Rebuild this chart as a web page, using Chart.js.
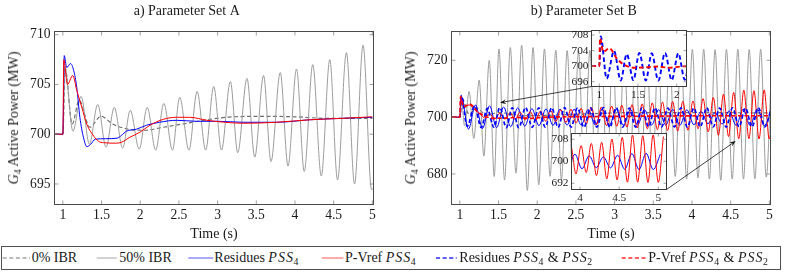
<!DOCTYPE html>
<html>
<head>
<meta charset="utf-8">
<script src="https://cdn.jsdelivr.net/npm/chart.js@4.4.1/dist/chart.umd.min.js"></script>
<style>
html,body{margin:0;padding:0;background:#fff;}
#wrap{position:relative;width:793px;height:272px;overflow:hidden;font-family:'Liberation Serif','Times New Roman',serif;color:#1a1a1a;background:#fff;}
#wrap canvas{position:absolute;}
.yt{position:absolute;white-space:nowrap;font-size:14px;line-height:16px;transform:translate(-50%,-50%) rotate(-90deg);}
sub{font-size:70%;vertical-align:baseline;position:relative;top:0.28em;line-height:0;}
#legend{position:absolute;left:1px;top:246px;width:780px;height:24px;border:1px solid #505050;box-sizing:border-box;}
#legend svg{position:absolute;left:0;top:0;}
.lt{position:absolute;top:11px;transform:translateY(-50%);font-size:14px;line-height:16px;white-space:nowrap;}
.lt i{letter-spacing:1px;}
.lt sub{margin-left:-0.5px;margin-right:1px;}
</style>
</head>
<body>
<div id="wrap">
 <canvas id="cA" width="400" height="245" style="left:0;top:0"></canvas>
 <canvas id="cB" width="396" height="245" style="left:397px;top:0"></canvas>
 <canvas id="cI1" width="136" height="90" style="left:557px;top:16px"></canvas>
 <canvas id="cI2" width="136" height="90" style="left:537px;top:119px"></canvas>
 <div class="yt" style="left:13.5px;top:118px"><i>G</i><sub>4</sub> Active Power (MW)</div>
 <div class="yt" style="left:410.5px;top:118px"><i>G</i><sub>4</sub> Active Power (MW)</div>
 <div id="legend">
  <svg width="778" height="22">
   <line x1="0.7" y1="11" x2="28" y2="11" stroke="#777" stroke-width="1.2" stroke-dasharray="4,2.6"/>
   <line x1="94.7" y1="11" x2="114.7" y2="11" stroke="#b4b4b4" stroke-width="1.2"/>
   <line x1="186.3" y1="11" x2="211.3" y2="11" stroke="#7070ff" stroke-width="1.2"/>
   <line x1="319.7" y1="11" x2="341.3" y2="11" stroke="#ff7070" stroke-width="1.2"/>
   <line x1="434" y1="11" x2="454.7" y2="11" stroke="#2a2aff" stroke-width="1.6" stroke-dasharray="4,2.6"/>
   <line x1="619.7" y1="11" x2="644.7" y2="11" stroke="#ff2a2a" stroke-width="1.6" stroke-dasharray="4,2.6"/>
  </svg>
  <span class="lt" style="left:29.7px">0% IBR</span>
  <span class="lt" style="left:117.3px">50% IBR</span>
  <span class="lt" style="left:212.3px">Residues <i>PSS</i><sub>4</sub></span>
  <span class="lt" style="left:343px">P-Vref <i>PSS</i><sub>4</sub></span>
  <span class="lt" style="left:457.3px">Residues <i>PSS</i><sub>4</sub> &amp; <i>PSS</i><sub>2</sub></span>
  <span class="lt" style="left:646.3px">P-Vref <i>PSS</i><sub>4</sub> &amp; <i>PSS</i><sub>2</sub></span>
 </div>
</div>
<script>
// ---------------- tick values ----------------
const mainXTicks = [1, 1.5, 2, 2.5, 3, 3.5, 4, 4.5, 5];
const A_yTicks = [695, 700, 705, 710];
const B_yTicks = [680, 700, 720];
const I1_xTicks = [1, 1.5, 2];
const I1_yTicks = [696, 700, 704, 708];
const I2_xTicks = [4, 4.5, 5];
const I2_yTicks = [692, 700, 708];

// ---------------- Panel A series: [time (s), power (MW)] ----------------
const A_ibr0 = [[0.9,700],[1.0,700],[1.03,706.6],[1.12,701.0],[1.21,703.4],[1.35,700.7],[1.49,701.8],[1.65,701.0],[1.85,700.5],[2.05,700.4],[2.3,700.7],[2.6,701.1],[2.9,701.5],[3.2,701.75],[3.6,701.8],[4.0,701.75],[4.4,701.6],[4.8,701.6],[5.0,701.6]];
const A_ibr50 = [[0.9,700],[1.0,700],[1.025,706.8],[1.13,700.3],[1.236,703.8],[1.343,699.0],[1.451,703.0],[1.558,698.7],[1.665,702.7],[1.773,698.6],[1.871,702.4],[1.987,698.5],[2.09,702.7],[2.2,698.4],[2.305,703.1],[2.417,698.4],[2.51,703.7],[2.63,698.4],[2.735,704.3],[2.846,698.4],[2.95,704.8],[3.05,698.4],[3.165,705.3],[3.26,698.15],[3.38,705.6],[3.48,697.7],[3.594,705.9],[3.69,697.25],[3.81,706.2],[3.91,696.8],[4.02,706.55],[4.12,696.25],[4.23,707.0],[4.34,695.8],[4.45,707.5],[4.55,695.4],[4.665,708.2],[4.77,695.0],[4.88,708.95],[4.99,694.45],[5.02,694.6]];
const A_res = [[0.9,700],[1.0,700],[1.018,707.9],[1.05,706.7],[1.1,707.1],[1.14,706.4],[1.18,704.7],[1.22,701.7],[1.266,699.7],[1.31,698.75],[1.36,699.0],[1.42,699.5],[1.55,699.55],[1.7,699.6],[1.76,699.9],[1.82,700.3],[1.95,700.5],[2.08,700.9],[2.25,701.2],[2.47,701.4],[2.73,701.3],[3.0,701.3],[3.33,701.2],[3.76,701.2],[4.19,701.45],[4.62,701.6],[5.0,701.7]];
const A_pv = [[0.9,700],[1.0,700],[1.012,707.5],[1.06,705.0],[1.128,705.9],[1.18,704.4],[1.245,702.7],[1.31,701.0],[1.40,699.8],[1.46,699.3],[1.524,699.15],[1.695,699.1],[1.76,699.2],[1.867,699.7],[1.996,700.2],[2.125,700.9],[2.3,701.5],[2.47,701.7],[2.64,701.7],[2.86,701.4],[3.1,701.2],[3.33,701.1],[3.76,701.2],[4.19,701.45],[4.62,701.6],[5.0,701.75]];

// ---------------- Panel B series ----------------
const B_ibr0 = [[0.9,700],[1.0,700],[1.03,706.5],[1.12,701.0],[1.21,703.3],[1.35,700.6],[1.49,701.6],[1.85,700.5],[2.5,701.0],[3.2,701.6],[4.0,701.6],[5.0,701.5]];
const B_ibr50 = [[0.9,700],[1.0,700],[1.02,706],[1.06,697],[1.12,709],[1.18,692.5],[1.25,713],[1.31,686.3],[1.38,720],[1.444,679.1],[1.505,724],[1.578,677.9],[1.652,724.5],[1.725,680.3],[1.799,725.3],[1.872,674.2],[1.946,724.5],[2.02,676.2],[2.093,724],[2.166,679.2],[2.24,723.6],[2.313,678],[2.387,723.4],[2.46,678.5],[2.534,723.3],[2.607,678.8],[2.681,723.5],[2.755,678.6],[2.829,723.6],[2.902,678.4],[2.976,723.8],[3.05,678.3],[3.123,724],[3.196,678.5],[3.27,724],[3.343,678.7],[3.417,723.9],[3.49,678.6],[3.564,723.8],[3.637,678.8],[3.711,723.9],[3.784,679.1],[3.858,723.8],[3.931,678.2],[4.005,723.8],[4.078,678.6],[4.152,723.9],[4.225,678.2],[4.299,723.7],[4.372,677.8],[4.446,723.8],[4.52,678.2],[4.593,723.9],[4.666,678.2],[4.74,723.8],[4.813,678.3],[4.888,723.9],[4.96,678.9],[5.035,723.5]];
const B_res = [[0.9,700],[1.0,700],[1.02,707.3],[1.111,695.8],[1.202,704.3],[1.293,696.0],[1.384,704.0],[1.475,696.3],[1.566,703.6],[1.657,696.6],[1.748,703.3],[1.839,696.8],[1.931,703.0],[2.022,697.0],[2.113,702.9],[2.204,697.1],[2.295,702.8],[2.386,697.2],[2.477,702.8],[2.568,697.2],[2.659,702.7],[2.750,697.2],[2.841,702.8],[2.932,697.1],[3.023,702.8],[3.114,697.1],[3.205,702.7],[3.296,697.2],[3.387,702.6],[3.478,697.2],[3.570,702.6],[3.661,697.2],[3.752,702.7],[3.843,697.1],[3.934,702.6],[4.025,697.3],[4.116,702.0],[4.207,697.7],[4.298,701.6],[4.389,697.6],[4.480,702.2],[4.571,697.1],[4.662,702.8],[4.753,697.0],[4.844,702.9],[4.935,697.0],[5.026,702.6]];
const B_pv = [[0.9,700],[1.0,700],[1.01,707.0],[1.05,703.6],[1.12,704.3],[1.2,702.5],[1.28,700.6],[1.32,699.7],[1.385,701.2],[1.451,699.4],[1.516,701.4],[1.582,699.3],[1.647,701.5],[1.713,699.2],[1.779,701.7],[1.845,699.0],[1.91,701.9],[1.976,698.8],[2.042,702.1],[2.108,698.6],[2.173,702.3],[2.239,698.4],[2.305,702.6],[2.371,698.1],[2.436,702.8],[2.502,697.9],[2.567,703.1],[2.633,697.6],[2.699,703.4],[2.765,697.3],[2.83,703.6],[2.896,697.0],[2.962,703.9],[3.028,696.8],[3.093,704.2],[3.159,696.5],[3.225,704.4],[3.291,696.2],[3.356,704.7],[3.422,695.9],[3.487,705.0],[3.553,695.6],[3.619,705.3],[3.685,695.3],[3.75,705.5],[3.816,695.1],[3.882,705.6],[3.948,695.4],[4.013,705.7],[4.079,695.9],[4.144,706.5],[4.21,694.8],[4.276,706.9],[4.342,693.6],[4.407,708.1],[4.473,693.2],[4.539,708.7],[4.605,692.4],[4.67,709.5],[4.736,692.4],[4.801,709.3],[4.867,692.3],[4.933,709.6],[4.999,692.3],[5.064,709]];
const B_res2 = [[0.9,700],[1.0,700],[1.018,707.6],[1.095,696.8],[1.19,703.9],[1.276,696.3],[1.354,703.1],[1.44,696.4],[1.517,703.4],[1.60,696.3],[1.677,703.3],[1.762,696.3],[1.849,703.4],[1.935,696.4],[2.02,703.3],[2.104,696.5],[2.187,703.3],[2.27,696.4],[2.354,703.4],[2.437,696.5],[2.521,703.3],[2.604,696.4],[2.688,703.3],[2.771,696.5],[2.855,703.4],[2.938,696.4],[3.022,703.3],[3.105,696.5],[3.189,703.2],[3.272,696.5],[3.356,703.3],[3.439,696.6],[3.523,703.3],[3.606,696.5],[3.69,703.2],[3.773,696.6],[3.857,703.3],[3.94,696.5],[4.024,703.2],[4.107,696.6],[4.191,703.3],[4.274,696.6],[4.358,703.2],[4.441,696.5],[4.525,703.3],[4.608,696.6],[4.692,703.2],[4.775,696.6],[4.859,703.3],[4.942,696.6],[5.026,703.2]];
const B_pv2 = [[0.9,700],[1.0,700],[1.009,707.2],[1.05,703.7],[1.13,704.6],[1.225,702.0],[1.31,700.5],[1.44,699.6],[1.6,699.7],[1.75,699.9],[1.9,699.6],[2.05,699.9],[2.3,700.1],[2.7,700.2],[3.2,700.3],[3.7,700.4],[4.2,700.5],[4.7,700.5],[5.0,700.5]];

// arrow targets (data coords in panel B)
const B_arrowTo = [[1.52, 705.1], [4.565, 691.6]];

// ---------------- layout constants ----------------
const FF = "'Liberation Serif','Times New Roman',serif";
Chart.defaults.font.family = FF;
Chart.defaults.color = '#1a1a1a';
const B_LEFT = 397;
const I1_BOX = {l: 591.5, t: 30.5, r: 686.5, b: 86.5};
const I2_BOX = {l: 571.5, t: 133.5, r: 666.5, b: 189.5};

const toXY = arr => arr.map(([x, y]) => ({x, y}));
function ds(label, arr, color, width, dash, order) {
  return {label, data: toXY(arr), borderColor: color, backgroundColor: color, borderWidth: width,
    borderDash: dash || [], pointRadius: 0, fill: false, cubicInterpolationMode: 'monotone', order};
}

const framePlugin = {
  id: 'frame',
  beforeDatasetsDraw(chart, args, o) {
    if (!o || !o.fill) return;
    const a = chart.chartArea, c = chart.ctx;
    c.save(); c.fillStyle = '#fff'; c.fillRect(a.left, a.top, a.right - a.left, a.bottom - a.top); c.restore();
  },
  afterDatasetsDraw(chart, args, o) {
    const a = chart.chartArea, c = chart.ctx, L = o.len;
    const xs = chart.scales.x, ys = chart.scales.y;
    c.save();
    c.lineWidth = 0.8; c.strokeStyle = o.tick;
    c.beginPath();
    xs.ticks.forEach(t => {
      const p = xs.getPixelForValue(t.value);
      c.moveTo(p, a.bottom); c.lineTo(p, a.bottom - L);
      c.moveTo(p, a.top); c.lineTo(p, a.top + L);
    });
    ys.ticks.forEach(t => {
      const p = ys.getPixelForValue(t.value);
      c.moveTo(a.left, p); c.lineTo(a.left + L, p);
      c.moveTo(a.right, p); c.lineTo(a.right - L, p);
    });
    c.stroke();
    c.lineWidth = 1; c.strokeStyle = o.line;
    c.strokeRect(a.left, a.top, a.right - a.left, a.bottom - a.top);
    c.restore();
  }
};

const arrowPlugin = {
  id: 'arrows',
  afterDraw(chart, args, o) {
    const c = chart.ctx, xs = chart.scales.x, ys = chart.scales.y;
    c.save(); c.strokeStyle = '#111'; c.fillStyle = '#111'; c.lineWidth = 0.8;
    o.items.forEach(it => {
      const x0 = it.from[0], y0 = it.from[1];
      const x1 = xs.getPixelForValue(it.to[0]), y1 = ys.getPixelForValue(it.to[1]);
      const ang = Math.atan2(y1 - y0, x1 - x0), h = 6, w = 2.4;
      const ca = Math.cos(ang), sa = Math.sin(ang);
      c.beginPath(); c.moveTo(x0, y0); c.lineTo(x1 - ca * h * 0.7, y1 - sa * h * 0.7); c.stroke();
      c.beginPath(); c.moveTo(x1, y1);
      c.lineTo(x1 - h * ca + w * sa, y1 - h * sa - w * ca);
      c.lineTo(x1 - h * 0.65 * ca, y1 - h * 0.65 * sa);
      c.lineTo(x1 - h * ca - w * sa, y1 - h * sa + w * ca);
      c.closePath(); c.fill();
    });
    c.restore();
  }
};

function mainChart(id, title, datasets, yr, yTicks, rightPad, extraPlugins, arrowOpts) {
  return new Chart(document.getElementById(id), {
    type: 'line',
    data: {datasets},
    options: {
      responsive: false, animation: false, events: [],
      layout: {padding: {left: 0, top: 0, bottom: 0, right: rightPad}},
      plugins: {
        legend: {display: false}, tooltip: {enabled: false},
        title: {display: true, text: title, color: '#1a1a1a', font: {size: 14, weight: 'normal', family: FF, lineHeight: 1.2},
          padding: {top: 3.3, bottom: 31.5 - 3.3 - 16.8}},
        frame: {len: 4, tick: '#8a8a8a', line: '#4a4a4a'},
        arrows: arrowOpts || {items: []}
      },
      scales: {
        x: {type: 'linear', min: 0.892, max: 5.015, grid: {display: false, drawTicks: false}, border: {display: false},
          afterBuildTicks: s => { s.ticks = mainXTicks.map(v => ({value: v})); },
          afterFit: s => { s.height = 245 - 204.5; },
          ticks: {autoSkip: false, maxRotation: 0, minRotation: 0, padding: 3, color: '#1a1a1a', font: {size: 13.6}, callback: v => String(v)},
          title: {display: true, text: 'Time (s)', color: '#1a1a1a', font: {size: 14}, padding: {top: 2, bottom: 1.9}}},
        y: {type: 'linear', min: yr[0], max: yr[1], grid: {display: false, drawTicks: false}, border: {display: false},
          afterBuildTicks: s => { s.ticks = yTicks.map(v => ({value: v})); },
          afterFit: s => { s.width = 54.5; },
          ticks: {autoSkip: false, padding: 4, color: '#1a1a1a', font: {size: 13.6}, callback: v => String(v)}}
      }
    },
    plugins: [framePlugin].concat(extraPlugins || [])
  });
}

function insetChart(id, datasets, xr, yr, xTicks, yTicks) {
  return new Chart(document.getElementById(id), {
    type: 'line',
    data: {datasets},
    options: {
      responsive: false, animation: false, events: [],
      layout: {padding: {left: 0, top: 14.5, right: 6.5, bottom: 0}},
      plugins: {legend: {display: false}, tooltip: {enabled: false}, title: {display: false},
        frame: {len: 3, tick: '#8a8a8a', line: '#3a3a3a', fill: true}},
      scales: {
        x: {type: 'linear', min: xr[0], max: xr[1], grid: {display: false, drawTicks: false}, border: {display: false},
          afterBuildTicks: s => { s.ticks = xTicks.map(v => ({value: v})); },
          afterFit: s => { s.height = 19.5; },
          ticks: {autoSkip: false, maxRotation: 0, minRotation: 0, padding: 1.5, color: '#1a1a1a', font: {size: 11.3}, callback: v => String(v)}},
        y: {type: 'linear', min: yr[0], max: yr[1], grid: {display: false, drawTicks: false}, border: {display: false},
          afterBuildTicks: s => { s.ticks = yTicks.map(v => ({value: v})); },
          afterFit: s => { s.width = 34.5; },
          ticks: {autoSkip: false, padding: 3, color: '#1a1a1a', font: {size: 11.3}, callback: v => String(v)}}
      }
    },
    plugins: [framePlugin]
  });
}

const C_IBR0 = '#6e6e6e', C_IBR50 = '#9c9c9c', C_BLUE = '#0000ff', C_RED = '#ff0000';
const DASH = [4, 2.5];

mainChart('cA', 'a) Parameter Set A', [
  ds('0% IBR', A_ibr0, C_IBR0, 1.2, DASH, 5),
  ds('50% IBR', A_ibr50, C_IBR50, 1, null, 4),
  ds('Residues PSS4', A_res, C_BLUE, 1, null, 3),
  ds('P-Vref PSS4', A_pv, C_RED, 1, null, 2)
], [692.94, 710.32], A_yTicks, 26.5);

mainChart('cB', 'b) Parameter Set B', [
  ds('0% IBR', B_ibr0, C_IBR0, 1.2, DASH, 5),
  ds('50% IBR', B_ibr50, C_IBR50, 1, null, 4),
  ds('Residues PSS4', B_res, C_BLUE, 1, null, 3),
  ds('P-Vref PSS4', B_pv, C_RED, 1, null, 2),
  ds('Residues PSS4 & PSS2', B_res2, C_BLUE, 1.7, DASH, 1),
  ds('P-Vref PSS4 & PSS2', B_pv2, C_RED, 1.7, DASH, 0)
], [669.27, 730.13], B_yTicks, 22.5, [arrowPlugin], {items: [
  {from: [I1_BOX.l - B_LEFT, I1_BOX.b], to: B_arrowTo[0]},
  {from: [I2_BOX.r - B_LEFT, I2_BOX.b], to: B_arrowTo[1]}
]});

insetChart('cI1', [
  ds('Residues PSS4 & PSS2', B_res2, C_BLUE, 1.9, [4.5, 2.8], 1),
  ds('P-Vref PSS4 & PSS2', B_pv2, C_RED, 1.9, [4.5, 2.8], 0)
], [0.899, 2.126], [694.77, 709.16], I1_xTicks, I1_yTicks);

insetChart('cI2', [
  ds('Residues PSS4', B_res, C_BLUE, 1, null, 1),
  ds('P-Vref PSS4', B_pv, C_RED, 1, null, 0)
], [3.891, 5.104], [689.75, 710.1], I2_xTicks, I2_yTicks);
</script>
</body>
</html>
